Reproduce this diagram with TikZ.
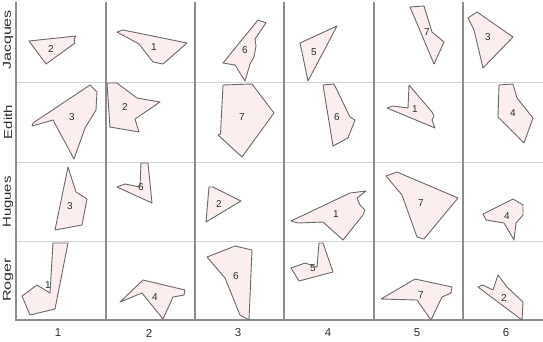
\documentclass[tikz,border=0pt]{standalone}
\usepackage{fontspec}
\setmainfont{Liberation Sans}
\usepackage{graphicx}

\definecolor{piecefill}{RGB}{252,238,238}
\definecolor{pieceline}{RGB}{105,105,105}
\definecolor{axisgray}{RGB}{140,140,140}
\definecolor{gridgray}{RGB}{210,210,210}
\definecolor{labelgray}{RGB}{45,45,45}

\begin{document}
\begin{tikzpicture}[
  x=1pt, y=-1pt,
  piece/.style={draw=pieceline, fill=piecefill, line width=0.9pt, line join=round},
  num/.style={font=\fontsize{10}{10}\selectfont, text=labelgray, inner sep=0pt},
  rowname/.style={font=\fontsize{11.5}{12}\selectfont, text=labelgray, rotate=90, inner sep=0pt},
  colname/.style={font=\fontsize{11.5}{12}\selectfont, text=labelgray, inner sep=0pt},
  colsep/.style={draw=axisgray, line width=1.2pt},
  rowsep/.style={draw=gridgray, line width=1pt}
]
\useasboundingbox (0,0) rectangle (543,341);

% grid
\foreach \y in {82,162,241} \draw[rowsep] (16,\y) -- (543,\y);
\foreach \x in {106,195,284,374,463} \draw[colsep] (\x,2) -- (\x,321);
\draw[colsep] (16,2) -- (16,320) -- (543,320);

% row and column names
\node[rowname] (jacques) at (8,40) {\scalebox{1.4}[1]{Jacques}};
\node[rowname] (edith) at (8,122) {\scalebox{1.3}[1]{Edith}};
\node[rowname] (hugues) at (8,202) {\scalebox{1.3}[1]{Hugues}};
\node[rowname] (roger) at (8,280) {\scalebox{1.4}[1]{Roger}};
\foreach \n/\x in {1/58,2/149,3/238,4/328,5/417,6/506}
  \node[colname] (col\n) at (\x,333) {\n};

% Jacques
\draw[piece] (29,41) -- (76,36) -- (74,39) -- (75,43) -- (46,64) -- cycle;
\node[num] (j1) at (51,49) {2};
\draw[piece] (117,32) -- (123,30) -- (187,43) -- (163,64) -- (153,62) -- (139,44) -- cycle;
\node[num] (j2) at (154,47) {1};
\draw[piece] (258,20) -- (266,23) -- (255,39) -- (256,46) -- (254,57) -- (250,64) -- (245,81) -- (235,65) -- (223,63) -- cycle;
\node[num] (j3) at (245,50) {6};
\draw[piece] (300,43) -- (337,26) -- (308,81) -- cycle;
\node[num] (j4) at (314,52) {5};
\draw[piece] (410,7) -- (424,6) -- (432,32) -- (444,42) -- (434,64) -- cycle;
\node[num] (j5) at (427,32) {7};
\draw[piece] (468,18) -- (477,12) -- (513,37) -- (483,68) -- (474,30) -- cycle;
\node[num] (j6) at (488,37) {3};

% Edith
\draw[piece] (90,85) -- (97,92) -- (96,110) -- (85,128) -- (74,159) -- (53,120) -- (32,126) -- (33,123) -- cycle;
\node[num] (e1) at (72,117) {3};
\draw[piece] (107,83) -- (117,83) -- (137,98) -- (160,102) -- (135,119) -- (139,132) -- (110,127) -- cycle;
\node[num] (e2) at (125,107) {2};
\draw[piece] (223,85) -- (252,84) -- (274,113) -- (242,157) -- (218,135) -- (220.5,134) -- cycle;
\node[num] (e3) at (242,117) {7};
\draw[piece] (323,85) -- (334,84) -- (350,117) -- (355,120) -- (348,138) -- (333,146) -- cycle;
\node[num] (e4) at (337,117) {6};
\draw[piece] (409,85) -- (432,112) -- (434,116) -- (432,120) -- (435,128) -- (387,108) -- (393,106) -- (408,108) -- cycle;
\node[num] (e5) at (415,109) {1};
\draw[piece] (499,85) -- (513,84) -- (517,98) -- (533,118) -- (524,143) -- (498,117) -- cycle;
\node[num] (e6) at (513,113) {4};

% Hugues
\draw[piece] (68,167) -- (76,192) -- (87,199) -- (82,225) -- (55,230) -- cycle;
\node[num] (h1) at (70,206) {3};
\draw[piece] (141,163) -- (148,163) -- (152,203) -- (117,187) -- (125,184) -- (140,187) -- cycle;
\node[num] (h2) at (141,187) {6};
\draw[piece] (209,187) -- (213,187) -- (241,201) -- (206,222) -- cycle;
\node[num] (h3) at (219,204) {2};
\draw[piece] (291,221) -- (350,193) -- (366,191) -- (357,198) -- (360,205) -- (365,210) -- (363,215) -- (343,240) -- (323,222) -- (298,223) -- cycle;
\node[num] (h4) at (336,214) {1};
\draw[piece] (386,176) -- (397,172) -- (458,198) -- (424,239) -- (417,237) -- (402,195) -- cycle;
\node[num] (h5) at (421,203) {7};
\draw[piece] (483,214) -- (495,208) -- (513,199) -- (523,205) -- (523,215) -- (516,223) -- (514,240) -- (504,223) -- (486,220) -- cycle;
\node[num] (h6) at (507,216) {4};

% Roger
\draw[piece] (53,243) -- (68,243) -- (55,309) -- (30,315) -- (22,296) -- (37,285) -- (50,293) -- cycle;
\node[num] (r1) at (48,285) {1};
\draw[piece] (120,302) -- (143,280) -- (185,290) -- (184,295) -- (173,297) -- (163,319) -- (142,293) -- cycle;
\node[num] (r2) at (155,297) {4};
\draw[piece] (207,257) -- (235,246) -- (252,250) -- (249,320) -- (240,315) -- (225,278) -- cycle;
\node[num] (r3) at (236,276) {6};
\draw[piece] (323,243) -- (333,272) -- (299,281) -- (291,268) -- (305,263) -- (317,267) -- (319,243) -- cycle;
\node[num] (r4) at (313,268) {5};
\draw[piece] (381,299) -- (415,279) -- (452,287) -- (451,293) -- (442,297) -- (431,320) -- (417,300) -- cycle;
\node[num] (r5) at (421,295) {7};
\draw[piece] (478,287) -- (483,285) -- (493,290) -- (498,275) -- (507,287) -- (523,302) -- (522,320) -- cycle;
\node[num] (r6) at (504,298) {2};
\end{tikzpicture}
\end{document}
